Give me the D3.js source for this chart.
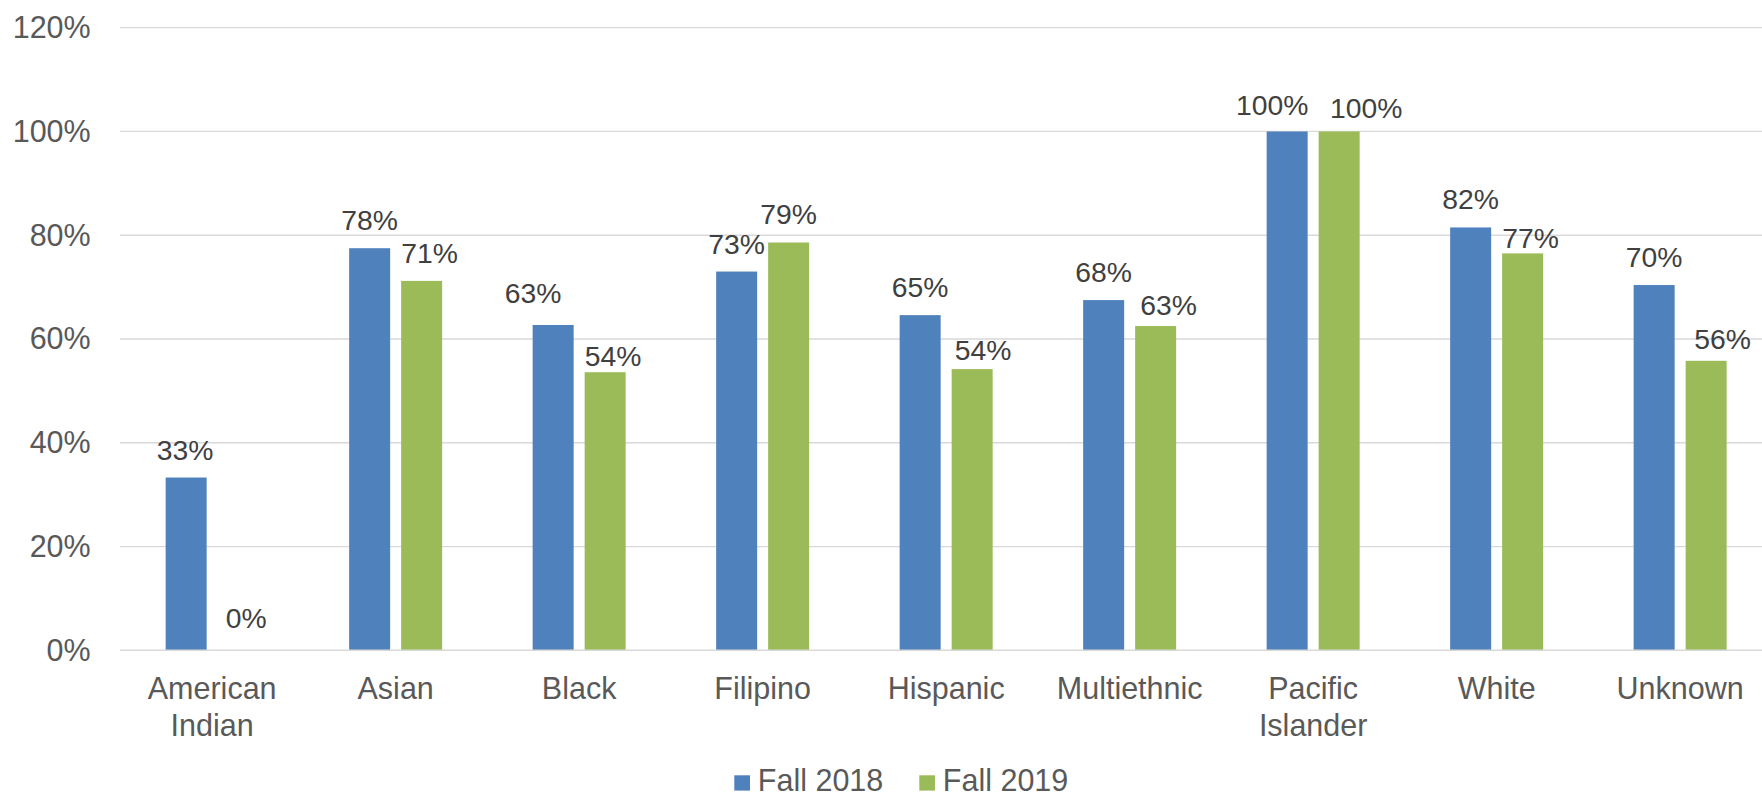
<!DOCTYPE html>
<html>
<head>
<meta charset="utf-8">
<script src="https://cdn.jsdelivr.net/npm/d3@7"></script>
<style>
  html, body { margin: 0; padding: 0; background: #fff; }
  svg { display: block; }
  text { font-family: "Liberation Sans", Arial, sans-serif; }
</style>
</head>
<body>
<svg id="chart" width="1762" height="797"></svg>
<script>
// ---- data ----
const categories = [["American", "Indian"], ["Asian"], ["Black"], ["Filipino"], ["Hispanic"], ["Multiethnic"], ["Pacific", "Islander"], ["White"], ["Unknown"]];
const seriesNames = ["Fall 2018", "Fall 2019"];
const fall2018 = [33.3, 77.5, 62.7, 73.0, 64.6, 67.5, 100, 81.5, 70.4];
const fall2019 = [0, 71.2, 53.6, 78.6, 54.2, 62.5, 100, 76.5, 55.8];
const yTicks = [0, 20, 40, 60, 80, 100, 120];

// manual label nudges (dx, dy in px), as placed in the original
const nudge2018 = [[-1, 0], [0, 0], [-20, -4], [0, 0], [0, 0], [0, 0], [-15, 1.5], [0, 0], [0, 0]];
const nudge2019 = [[8, -4], [8, 0], [8, 12], [0, 0], [11, 9], [13, 7], [27, 5], [8, 13], [16.5, 6]];

// ---- layout ----
const colors = ["#4F81BD", "#9BBB59"];
const svg = d3.select("#chart");
const catKeys = categories.map(c => c.join(" "));
const left = 120.4, step = 183.5;
const x0 = d3.scaleBand().domain(catKeys).range([left, left + step * categories.length]).padding(0);
const x1 = d3.scaleBand().domain(seriesNames).range([45.25, 138.25]).paddingInner(0.2115).paddingOuter(0);
const y = d3.scaleLinear().domain([0, 120]).range([650.3, 27.7]);

// gridlines
svg.append("g").selectAll("line").data(yTicks.filter(t => t > 0)).join("line")
  .attr("x1", 120).attr("x2", 1762)
  .attr("y1", d => y(d)).attr("y2", d => y(d))
  .attr("stroke", "#D9D9D9").attr("stroke-width", 1.3);

// y tick labels
svg.append("g").selectAll("text").data(yTicks).join("text")
  .attr("x", 90.7).attr("y", d => y(d) + 10.3)
  .attr("text-anchor", "end")
  .attr("font-size", 30.5).attr("fill", "#595959")
  .text(d => d + "%");

// bars
const series = [fall2018, fall2019];
const nudges = [nudge2018, nudge2019];
series.forEach((vals, si) => {
  const g = svg.append("g");
  g.selectAll("rect").data(vals).join("rect")
    .attr("x", (d, i) => x0(catKeys[i]) + x1(seriesNames[si]))
    .attr("width", x1.bandwidth())
    .attr("y", d => y(d))
    .attr("height", d => y(0) - y(d))
    .attr("fill", colors[si]);
  g.selectAll("text").data(vals).join("text")
    .attr("x", (d, i) => x0(catKeys[i]) + x1(seriesNames[si]) + x1.bandwidth() / 2 + nudges[si][i][0])
    .attr("y", (d, i) => y(d) - 18 + nudges[si][i][1])
    .attr("text-anchor", "middle")
    .attr("font-size", 28.3).attr("fill", "#404040")
    .text(d => Math.round(d) + "%");
});

// x axis line
svg.append("line")
  .attr("x1", 120).attr("x2", 1762)
  .attr("y1", y(0)).attr("y2", y(0))
  .attr("stroke", "#D9D9D9").attr("stroke-width", 1.5);

// category labels
const cl = svg.append("g").selectAll("text").data(categories).join("text")
  .attr("text-anchor", "middle")
  .attr("font-size", 30.5).attr("fill", "#595959")
  .attr("transform", (d, i) => `translate(${x0(catKeys[i]) + x0.bandwidth() / 2},${y(0) + 49})`);
cl.selectAll("tspan").data(d => d).join("tspan")
  .attr("x", 0).attr("dy", (d, i) => i === 0 ? 0 : 36.7)
  .text(d => d);

// legend
const legendX = [734.3, 919.3];
const lg = svg.append("g");
seriesNames.forEach((s, i) => {
  lg.append("rect").attr("x", legendX[i]).attr("y", 775.3).attr("width", 15.7).attr("height", 15.3).attr("fill", colors[i]);
  lg.append("text").attr("x", legendX[i] + 23.5).attr("y", 790.5)
    .attr("font-size", 30.5).attr("fill", "#595959").text(s);
});
</script>
</body>
</html>
